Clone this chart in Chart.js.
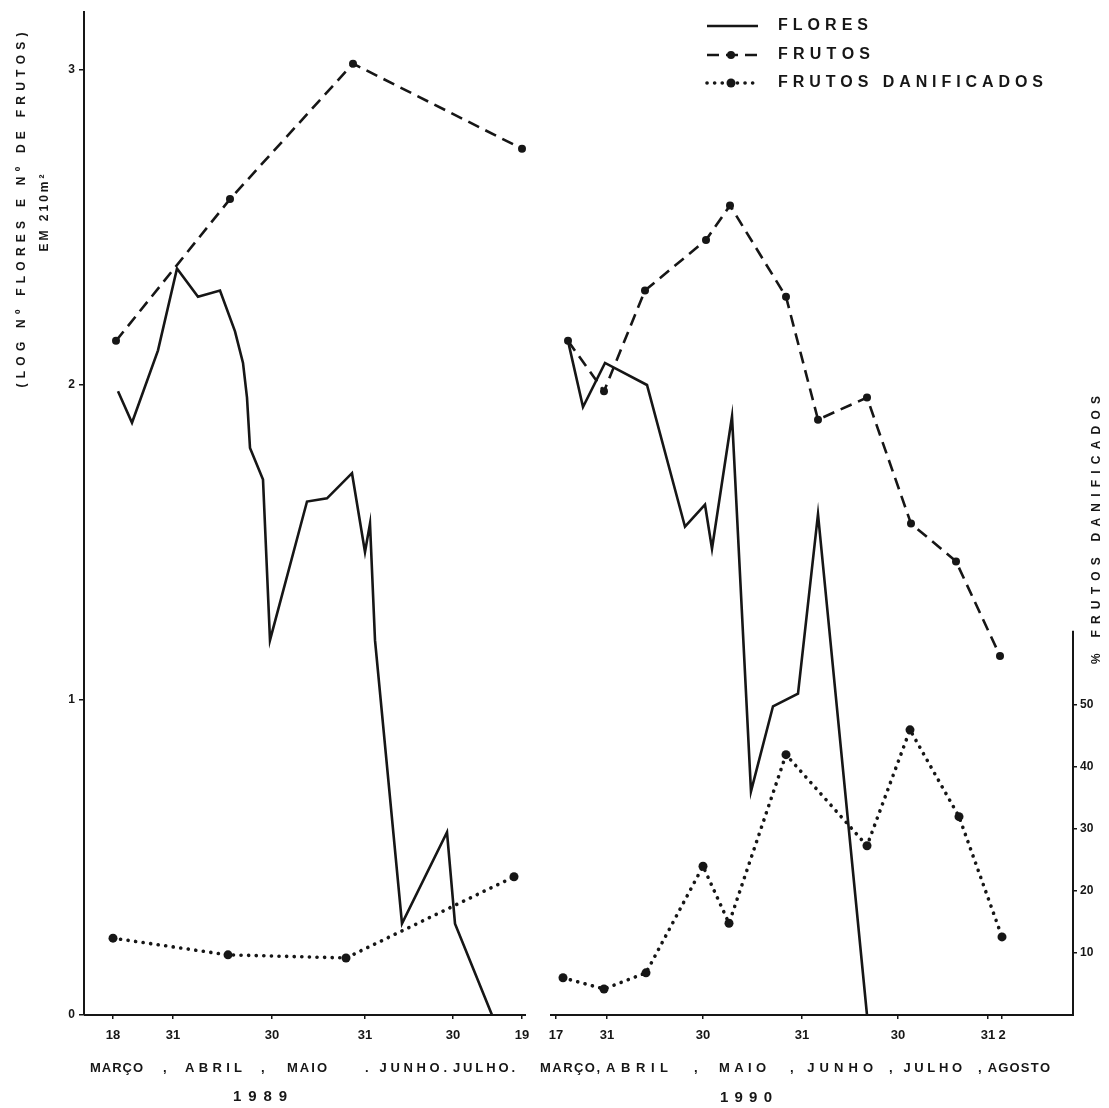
<!DOCTYPE html>
<html>
<head>
<meta charset="utf-8">
<script src="https://cdn.jsdelivr.net/npm/chart.js@4"></script>
<style>
  html, body { margin: 0; padding: 0; background: #ffffff; }
  #wrap { width: 1109px; height: 1108px; position: relative; }
</style>
</head>
<body>
<div id="wrap"><canvas id="c"></canvas></div>
<script>
// ---------- DATA (x = position along the hand-drawn time axis, y = values) ----------
const seriesLabels = ['FLORES', 'FRUTOS', 'FRUTOS DANIFICADOS'];

const xTickPos    = [29, 89, 188, 281, 369, 438, 472, 523, 619, 718, 814, 904, 918];
const xTickLabels = ['18', '31', '30', '31', '30', '19', '17', '31', '30', '31', '30', '31', '2'];
const leftTicks   = [0, 1, 2, 3];
const rightTicks  = [10, 20, 30, 40, 50];

const flores89X = [34, 48, 74, 93, 114, 136, 151, 159, 163, 166, 179, 186, 223, 243, 268, 281, 286, 291, 318, 363, 371, 408];
const flores89Y = [1.98, 1.88, 2.11, 2.37, 2.28, 2.30, 2.17, 2.07, 1.96, 1.80, 1.70, 1.19, 1.63, 1.64, 1.72, 1.47, 1.56, 1.19, 0.29, 0.58, 0.29, 0];
const flores90X = [484, 499, 521, 563, 601, 621, 628, 648, 667, 689, 714, 734, 783];
const flores90Y = [2.14, 1.93, 2.07, 2.00, 1.55, 1.62, 1.48, 1.90, 0.71, 0.98, 1.02, 1.59, 0];

const frutos89X = [32, 146, 269, 438];
const frutos89Y = [2.14, 2.59, 3.02, 2.75];
const frutos90X = [484, 520, 561, 622, 646, 702, 734, 783, 827, 872, 916];
const frutos90Y = [2.14, 1.98, 2.30, 2.46, 2.57, 2.28, 1.89, 1.96, 1.56, 1.44, 1.14];

const dano89X = [29, 144, 262, 430];
const dano89Y = [12.4, 9.7, 9.2, 22.3];
const dano90X = [479, 520, 562, 619, 645, 702, 783, 826, 875, 918];
const dano90Y = [6.0, 4.2, 6.8, 24.0, 14.8, 42.0, 27.3, 46.0, 32.0, 12.6];

const gapX = 455; // break between the two years

// ---------- STYLE / LAYOUT ----------
const INK = '#161616';
const FONT = '"Liberation Sans", Arial, sans-serif';
const X_MAX = 989, Y_MAX = 3.184, Y1_MAX = 161.8, RIGHT_AXIS_TOP = 62;
const axisSegments = [[0, 442], [466, 989]];

function pts(xs, ys) { return xs.map((v, i) => ({ x: v, y: ys[i] })); }
function joinYears(a, b) { return a.concat([{ x: gapX, y: null }], b); }

const DASH = [12, 7];
const DOTS = [0.1, 7.5];

const data = {
  datasets: [
    { label: seriesLabels[0], data: joinYears(pts(flores89X, flores89Y), pts(flores90X, flores90Y)),
      yAxisID: 'y', borderColor: INK, borderWidth: 2.6, pointRadius: 0, spanGaps: false, tension: 0 },
    { label: seriesLabels[1], data: joinYears(pts(frutos89X, frutos89Y), pts(frutos90X, frutos90Y)),
      yAxisID: 'y', borderColor: INK, borderWidth: 2.6, borderDash: DASH, pointRadius: 4,
      pointBackgroundColor: INK, pointBorderWidth: 0, spanGaps: false, tension: 0 },
    { label: seriesLabels[2], data: joinYears(pts(dano89X, dano89Y), pts(dano90X, dano90Y)),
      yAxisID: 'y1', borderColor: INK, borderWidth: 3.6, borderDash: DOTS, borderCapStyle: 'round',
      pointRadius: 4.5, pointBackgroundColor: INK, pointBorderWidth: 0, spanGaps: false, tension: 0 }
  ]
};

// draw text with spacing so it fills a given width (horizontal or rotated)
function spacedText(ctx, text, x0, y, width) {
  const chars = [...text];
  let w = 0; chars.forEach(c => w += ctx.measureText(c).width);
  const ls = chars.length > 1 ? (width - w) / (chars.length - 1) : 0;
  let x = x0;
  ctx.textAlign = 'left';
  chars.forEach(c => { ctx.fillText(c, x, y); x += ctx.measureText(c).width + ls; });
}
function rotatedText(ctx, text, cx, cy, length) {
  ctx.save();
  ctx.translate(cx, cy);
  ctx.rotate(-Math.PI / 2);
  spacedText(ctx, text, -length / 2, 0, length);
  ctx.restore();
}

const monthRows = [
  { y: 1068, items: [['MARÇO', 90, 143], [',', 163, 168], ['ABRIL', 185, 242], [',', 261, 266], ['MAIO', 287, 327],
                     ['. JUNHO.', 365, 447], ['JULHO.', 453, 515]] },
  { y: 1068, items: [['MARÇO,', 540, 600], ['ABRIL', 606, 668], [',', 694, 699], ['MAIO', 719, 766],
                     [', JUNHO', 790, 873], [', JULHO', 889, 962], [', AGOSTO', 978, 1050]] }
];

const overlay = {
  id: 'overlay',
  afterDraw(chart) {
    const { ctx, scales: { x, y, y1 }, chartArea } = chart;
    ctx.save();
    ctx.strokeStyle = INK; ctx.fillStyle = INK; ctx.lineWidth = 2;
    ctx.setLineDash([]);
    // split x axis line
    axisSegments.forEach(([a, b]) => {
      ctx.beginPath();
      ctx.moveTo(x.getPixelForValue(a), y.getPixelForValue(0));
      ctx.lineTo(x.getPixelForValue(b), y.getPixelForValue(0));
      ctx.stroke();
    });
    // short right axis
    ctx.beginPath();
    ctx.moveTo(chartArea.right, y1.getPixelForValue(0) + 1);
    ctx.lineTo(chartArea.right, y1.getPixelForValue(RIGHT_AXIS_TOP));
    ctx.stroke();

    // axis titles
    ctx.textBaseline = 'middle';
    ctx.font = 'bold 12px ' + FONT;
    rotatedText(ctx, '(LOG Nº FLORES E Nº DE FRUTOS)', 22, 210, 355);
    rotatedText(ctx, 'EM 210m²', 45, 213, 77);
    rotatedText(ctx, '% FRUTOS DANIFICADOS', 1097, 530, 268);

    // month rows and years
    ctx.font = 'bold 13px ' + FONT;
    monthRows.forEach(r => r.items.forEach(([t, a, b]) => spacedText(ctx, t, a, r.y, b - a)));
    ctx.font = 'bold 15px ' + FONT;
    spacedText(ctx, '1989', 233, 1097, 54);
    spacedText(ctx, '1990', 720, 1098, 52);

    // legend
    const ds = chart.data.datasets;
    const rows = [26, 55, 83];
    ctx.font = 'bold 16px ' + FONT;
    const widths = [90, 92, 265];
    ds.forEach((d, i) => {
      const yy = rows[i];
      ctx.save();
      ctx.lineWidth = d.borderWidth;
      ctx.lineCap = d.borderCapStyle || 'butt';
      ctx.setLineDash(d.borderDash || []);
      ctx.beginPath(); ctx.moveTo(707, yy); ctx.lineTo(758, yy); ctx.stroke();
      ctx.restore();
      if (d.pointRadius) { ctx.beginPath(); ctx.arc(731, yy, d.pointRadius, 0, Math.PI * 2); ctx.fill(); }
      spacedText(ctx, d.label, 778, yy, widths[i]);
    });
    ctx.restore();
  }
};

new Chart(document.getElementById('c'), {
  type: 'line',
  data,
  plugins: [overlay],
  options: {
    responsive: true, maintainAspectRatio: false, animation: false,
    layout: { padding: { top: 12, left: 0, right: 0, bottom: 0 } },
    plugins: { legend: { display: false }, tooltip: { enabled: false } },
    scales: {
      x: {
        type: 'linear', min: 0, max: X_MAX, position: 'bottom',
        afterBuildTicks: s => { s.ticks = xTickPos.map(v => ({ value: v })); },
        afterFit: s => { s.height = 93; },
        ticks: { autoSkip: false, maxRotation: 0, padding: 9, color: INK, font: { family: FONT, weight: 'bold', size: 13 },
                 callback: v => { const i = xTickPos.indexOf(v); return i >= 0 ? xTickLabels[i] : ''; } },
        grid: { drawOnChartArea: false, drawTicks: true, tickLength: 4, color: INK, lineWidth: 1.5 },
        border: { display: false }
      },
      y: {
        type: 'linear', min: 0, max: Y_MAX, position: 'left',
        afterBuildTicks: s => { s.ticks = leftTicks.map(v => ({ value: v })); },
        afterFit: s => { s.width = 84; },
        ticks: { padding: 4, color: INK, font: { family: FONT, weight: 'bold', size: 12 } },
        grid: { drawOnChartArea: false, drawTicks: true, tickLength: 5, color: INK, lineWidth: 1.5 },
        border: { display: true, color: INK, width: 2 }
      },
      y1: {
        type: 'linear', min: 0, max: Y1_MAX, position: 'right',
        afterBuildTicks: s => { s.ticks = rightTicks.map(v => ({ value: v })); },
        afterFit: s => { s.width = 36; },
        ticks: { padding: 3, color: INK, font: { family: FONT, weight: 'bold', size: 12 } },
        grid: { drawOnChartArea: false, drawTicks: true, tickLength: 4, color: INK, lineWidth: 1.5 },
        border: { display: false }
      }
    }
  }
});
</script>
</body>
</html>
